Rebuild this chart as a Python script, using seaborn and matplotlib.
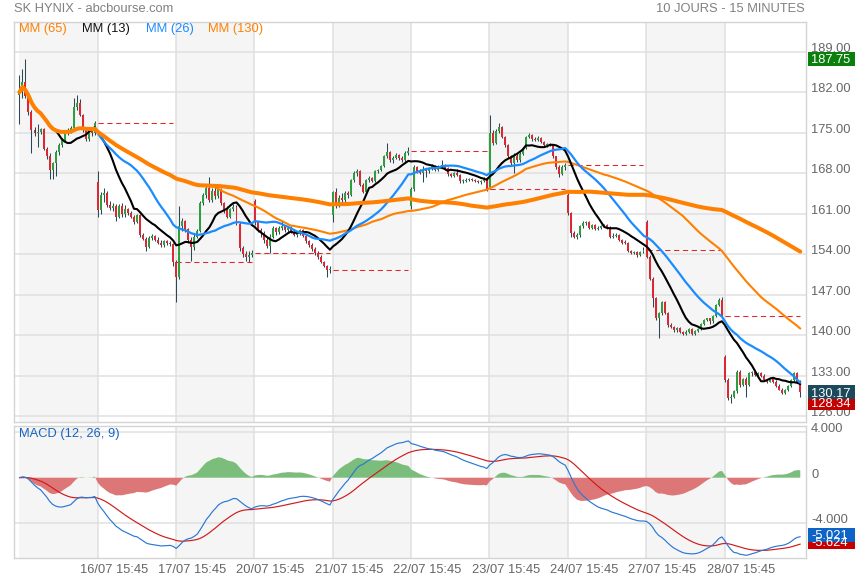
import numpy as np
import pandas as pd
import matplotlib
matplotlib.use("Agg")
import matplotlib.pyplot as plt
from matplotlib.patches import Rectangle
from matplotlib.transforms import blended_transform_factory
import seaborn as sns

# ---------------- data ----------------
title = "SK HYNIX - abcbourse.com"
period = "10 JOURS - 15 MINUTES"
date_labels = ["16/07 15:45", "17/07 15:45", "20/07 15:45", "21/07 15:45", "22/07 15:45",
               "23/07 15:45", "24/07 15:45", "27/07 15:45", "28/07 15:45"]
ma_windows = [65, 13, 26, 130]
ma_labels = ["MM (65)", "MM (13)", "MM (26)", "MM (130)"]
macd_periods = (12, 26, 9)
price_ticks = [126, 133, 140, 147, 154, 161, 168, 175, 182, 189]
macd_ticks = [-4, 0, 4]
macd_tick_labels = ["-4.000", "0", "4.000"]
close_before = 194.05
period_high = 187.75
period_low = 128.34
last_close = 130.17
macd_last = -5.021
signal_last = -5.624

# (open, high, low, close) per 15-minute bar
day01 = [(181.5,185.0,176.5,182.0),(182.0,186.0,181.0,183.8),(183.8,187.75,181.0,181.3),(181.3,182.0,178.0,178.6),
         (178.6,179.0,171.5,175.5),(175.5,176.0,174.5,175.0),(175.0,176.5,172.5,175.2),(175.2,175.8,174.8,175.6),
         (175.6,175.8,172.0,172.2),(172.2,172.5,170.5,171.0),(171.0,171.5,167.0,168.6),(168.6,170.0,167.0,169.8),
         (169.8,172.0,167.5,171.7),(171.7,173.2,171.2,172.9),(172.9,174.0,172.5,173.7),(173.7,175.4,173.5,175.2),
         (175.2,175.8,174.6,175.4),(175.4,176.2,175.0,175.8),(175.8,181.0,175.5,179.5),(179.5,181.5,179.0,180.1),
         (180.1,180.8,177.8,178.1),(178.1,178.3,175.2,175.5),(175.5,176.0,173.5,173.9),(173.9,175.8,173.5,175.4),
         (175.4,176.0,174.5,175.0),(175.0,177.0,174.6,176.6)]
day02 = [(166.5,168.3,160.5,161.6),(161.6,164.8,161.0,164.2),(164.2,165.5,163.0,164.6),(164.6,165.0,162.2,162.5),
         (162.5,163.2,161.6,162.0),(162.0,162.8,161.5,162.3),(162.3,162.6,159.8,160.5),(160.5,162.6,160.2,162.3),
         (162.3,162.8,160.5,161.0),(161.0,162.5,160.5,161.8),(161.8,162.0,160.8,161.2),(161.2,161.5,160.2,160.5),
         (160.5,160.8,159.2,159.6),(159.6,161.0,159.4,160.8),(160.8,161.0,157.0,157.3),(157.3,157.6,156.4,156.7),
         (156.7,157.0,154.5,155.3),(155.3,157.2,155.0,156.8),(156.8,157.5,156.5,157.2),(157.2,157.4,156.2,156.5),
         (156.5,156.9,155.8,156.0),(156.0,156.4,155.2,155.6),(155.6,156.5,155.3,156.2),(156.2,156.5,155.6,155.9),
         (155.9,156.3,155.5,155.7),(155.7,156.0,152.0,152.7)]
day03 = [(152.7,153.0,145.8,150.1),(150.1,162.4,149.8,158.8),(158.8,160.2,158.0,159.8),(159.8,160.0,157.8,158.3),
         (158.3,158.6,156.0,156.5),(156.5,157.0,152.8,155.2),(155.2,157.5,154.8,157.0),(157.0,158.4,156.8,158.0),
         (158.0,163.2,157.8,162.8),(162.8,164.5,162.5,164.2),(164.2,166.0,163.8,165.5),(165.5,167.4,163.0,163.4),
         (163.4,165.5,163.0,165.0),(165.0,165.8,163.5,164.0),(164.0,165.6,163.8,165.2),(165.2,165.5,162.5,162.8),
         (162.8,163.0,161.2,161.6),(161.6,162.4,160.2,160.5),(160.5,162.0,160.2,161.8),(161.8,162.6,161.4,162.2),
         (162.2,162.5,159.0,159.3),(159.3,159.5,154.6,155.0),(155.0,155.4,153.6,154.0),(154.0,154.6,152.8,153.6),
         (153.6,154.5,152.6,153.8),(153.8,154.8,153.5,154.2)]
day04 = [(163.2,163.5,159.0,159.5),(159.5,159.8,157.8,158.2),(158.2,158.5,157.0,157.6),(157.6,158.0,156.0,156.5),
         (156.5,157.0,155.0,155.5),(155.5,157.5,154.2,157.0),(157.0,158.8,156.8,158.5),(158.5,158.7,157.4,157.8),
         (157.8,158.8,157.5,158.6),(158.6,159.8,158.2,158.9),(158.9,159.0,157.8,158.1),(158.1,158.9,157.9,158.6),
         (158.6,158.8,157.6,157.9),(157.9,158.1,157.2,157.4),(157.4,157.9,157.0,157.6),(157.6,158.4,157.4,158.1),
         (158.1,158.3,156.9,157.2),(157.2,157.5,156.0,156.3),(156.3,156.5,155.2,155.6),(155.6,155.9,154.6,154.9),
         (154.9,155.2,153.9,154.2),(154.2,154.5,153.2,153.6),(153.6,153.8,152.4,152.6),(152.6,152.8,151.8,152.0),
         (152.0,152.2,150.0,151.3),(151.3,151.9,150.8,151.3)]
day05 = [(160.8,165.0,159.5,164.8),(164.8,165.5,162.0,162.5),(162.5,164.2,162.2,163.8),(163.8,164.6,162.8,163.3),
         (163.3,165.0,163.0,164.6),(164.6,164.9,163.8,164.2),(164.2,167.0,164.0,166.8),(166.8,168.4,166.5,168.0),
         (168.0,168.8,167.6,168.4),(168.4,168.6,165.8,166.0),(166.0,166.3,164.5,164.8),(164.8,167.0,164.6,166.8),
         (166.8,167.5,166.5,167.2),(167.2,167.4,166.4,166.7),(166.7,168.6,166.5,168.3),(168.3,168.8,168.0,168.6),
         (168.6,169.4,168.3,169.2),(169.2,171.2,169.0,170.9),(170.9,173.2,170.6,171.6),(171.6,171.8,170.0,170.3),
         (170.3,171.0,169.8,170.6),(170.6,171.5,170.4,171.2),(171.2,171.4,170.3,170.6),(170.6,170.9,170.0,170.3),
         (170.3,171.8,170.0,171.5),(171.5,172.6,171.2,171.9)]
day06 = [(162.3,165.6,161.8,165.3),(165.3,169.5,165.0,169.0),(169.0,169.3,168.1,168.4),(168.4,168.8,167.8,168.0),
         (168.0,169.3,166.5,168.6),(168.6,168.9,167.4,168.3),(168.3,169.1,168.0,168.9),(168.9,169.6,168.6,169.2),
         (169.2,169.4,168.4,168.6),(168.6,169.4,168.4,169.1),(169.1,170.3,168.9,169.5),(169.5,169.6,168.6,168.9),
         (168.9,169.0,167.5,167.8),(167.8,168.0,167.3,167.5),(167.5,168.2,167.3,168.0),(168.0,168.7,167.5,167.7),
         (167.7,167.9,166.3,166.6),(166.6,167.0,166.3,166.7),(166.7,167.1,166.5,166.9),(166.9,167.2,166.7,167.0),
         (167.0,167.2,166.6,166.8),(166.8,167.0,166.4,166.6),(166.6,166.8,166.3,166.5),(166.5,166.8,166.2,166.6),
         (166.6,167.3,166.5,167.1),(167.1,167.3,165.0,165.3)]
day07 = [(165.6,178.0,165.3,174.9),(174.9,175.5,172.8,173.2),(173.2,175.6,173.0,175.3),(175.3,176.7,175.0,175.9),
         (175.9,176.2,174.0,174.3),(174.3,174.5,172.6,172.9),(172.9,173.1,170.6,170.9),(170.9,171.1,169.4,169.7),
         (169.7,171.5,168.0,171.0),(171.0,171.3,169.9,170.2),(170.2,171.7,170.0,171.4),(171.4,172.6,171.2,172.4),
         (172.4,174.5,172.2,174.3),(174.3,175.0,174.0,174.6),(174.6,174.8,173.6,173.9),(173.9,174.2,173.5,173.7),
         (173.7,174.4,173.5,174.1),(174.1,174.3,173.2,173.4),(173.4,173.6,172.6,172.9),(172.9,173.2,172.6,173.0),
         (173.0,173.2,172.7,172.9),(172.9,173.1,170.6,170.9),(170.9,171.0,168.8,169.1),(169.1,169.4,167.3,167.9),
         (167.9,169.4,167.7,169.0),(169.0,169.8,168.6,169.4)]
day08 = [(164.2,164.5,160.8,161.1),(161.1,161.3,157.0,157.6),(157.6,158.0,156.8,157.0),(157.0,157.6,156.6,157.3),
         (157.3,159.0,157.0,158.8),(158.8,159.8,158.6,159.4),(159.4,159.8,159.0,159.6),(159.6,159.7,158.3,158.6),
         (158.6,159.3,158.4,159.1),(159.1,159.2,158.2,158.4),(158.4,158.8,158.1,158.5),(158.5,159.1,158.3,158.9),
         (158.9,159.3,158.7,159.1),(159.1,159.2,158.4,158.6),(158.6,158.8,156.8,157.0),(157.0,157.7,156.8,157.1),
         (157.1,157.6,156.9,157.3),(157.3,157.5,156.2,156.5),(156.5,156.7,155.8,156.0),(156.0,156.4,155.7,155.9),
         (155.9,156.1,154.3,154.5),(154.5,154.8,154.0,154.2),(154.2,154.6,154.0,154.3),(154.3,154.5,153.6,153.9),
         (153.9,154.6,153.7,154.4),(154.4,155.2,154.2,154.7)]
day09 = [(159.6,160.0,153.3,153.6),(153.6,153.8,149.6,149.8),(149.8,150.0,144.9,146.4),(146.4,146.6,142.7,142.9),
         (142.9,144.0,139.5,143.8),(143.8,146.0,143.5,145.8),(145.8,146.0,143.6,143.8),(143.8,144.0,141.4,141.8),
         (141.8,142.2,141.2,141.4),(141.4,141.6,140.6,140.9),(140.9,141.5,140.6,141.3),(141.3,141.4,140.4,140.6),
         (140.6,140.8,140.0,140.3),(140.3,140.9,140.0,140.6),(140.6,141.2,140.4,141.0),(141.0,141.2,140.0,140.3),
         (140.3,140.9,140.1,140.7),(140.7,141.3,140.5,141.1),(141.1,142.2,140.9,141.9),(141.9,142.8,141.7,142.6),
         (142.6,143.0,142.4,142.9),(142.9,143.0,142.0,142.4),(142.4,143.5,142.2,143.3),(143.3,145.4,143.1,145.2),
         (145.2,146.4,145.0,146.1),(146.1,146.6,143.0,143.3)]
day10 = [(136.3,136.6,132.0,132.3),(132.3,132.6,128.8,129.1),(129.1,129.8,128.34,129.4),(129.4,130.6,129.2,130.3),
         (130.3,134.0,130.0,133.7),(133.7,134.0,131.0,131.4),(131.4,132.6,131.2,132.5),(132.5,132.8,129.4,131.4),
         (131.4,133.6,131.2,133.4),(133.4,133.8,133.0,133.6),(133.6,133.8,132.9,133.1),(133.1,133.6,132.9,133.4),
         (133.4,133.6,132.8,133.0),(133.0,133.3,132.1,132.3),(132.3,132.5,131.8,132.0),(132.0,132.8,131.9,132.6),
         (132.6,132.8,131.7,132.0),(132.0,132.2,131.0,131.2),(131.2,131.5,130.5,130.6),(130.6,130.8,129.8,130.0),
         (130.0,130.7,129.8,130.5),(130.5,131.4,130.3,131.2),(131.2,132.5,131.0,132.3),(132.3,133.6,132.1,133.4),
         (133.4,133.6,131.8,132.0),(132.0,132.2,129.4,130.17)]
days = [day01, day02, day03, day04, day05, day06, day07, day08, day09, day10]

# ---------------- frame & indicators ----------------
df = pd.DataFrame([b for d in days for b in d], columns=["open", "high", "low", "close"])
df["i"] = np.arange(len(df))
for w in ma_windows:
    df[f"ma{w}"] = df["close"].rolling(w, min_periods=1).mean()
fast, slow, sig = macd_periods
ema_fast = df["close"].ewm(alpha=1 / fast, adjust=False).mean()
ema_slow = df["close"].ewm(alpha=1 / slow, adjust=False).mean()
df["macd"] = ema_fast - ema_slow
df["signal"] = df["macd"].ewm(alpha=1 / sig, adjust=False).mean()
df["hist"] = df["macd"] - df["signal"]

# ---------------- style ----------------
sns.set_theme(style="white")
plt.rcParams['font.family'] = ['Liberation Sans', 'DejaVu Sans']
FS = 9.3
GRID = '#e0e0e0'
TXT = '#666666'

W, H = 855, 580
fig = plt.figure(figsize=(W / 100, H / 100), dpi=100)
fig.patch.set_facecolor('white')

def rect(l, t, r, b):
    return [l / W, 1 - b / H, (r - l) / W, (b - t) / H]

ax = fig.add_axes(rect(14, 21.7, 806, 421.7))
axm = fig.add_axes(rect(14, 425.7, 806, 558))

n = len(df)
starts = np.cumsum([0] + [len(d) for d in days])
for a in (ax, axm):
    a.set_xlim(-1.8, n + 0.9)
    a.set_facecolor('white')
    for k in range(len(days)):
        if k % 2 == 0:
            a.axvspan(starts[k] - 0.1, starts[k + 1] - 0.1, color='#f5f5f5', lw=0, zorder=0)
    for k in range(1, len(days)):
        a.axvline(starts[k] - 0.1, color=GRID, lw=1.1, zorder=0.5)
    for s in a.spines.values():
        s.set_color('#d4d4d4')
        s.set_linewidth(1.0)

# ---- price panel ----
ax.set_ylim(125.06, 194.18)
for p in price_ticks:
    ax.axhline(p, color=GRID, lw=1.1, zorder=0.5)

prev = [close_before] + [d[-1][3] for d in days[:-1]]
for k in range(len(days)):
    ax.hlines(prev[k], starts[k], starts[k + 1] - 1, colors='#e4262b',
              linestyles=(0, (5, 3.5)), lw=0.75, zorder=2.5)

up = (df["close"] >= df["open"]).to_numpy()
ax.vlines(df["i"], df["low"], df["high"], color='#2b4858', lw=0.75, zorder=2)
body = (df["close"] - df["open"]).abs().clip(lower=0.14)
ax.bar(df["i"], body, bottom=df[["open", "close"]].min(axis=1), width=0.66,
       color=np.where(up, '#2f9e3f', '#dc2833'), lw=0, zorder=3)

ma_colors = {65: '#ff8000', 13: '#000000', 26: '#1b8cff', 130: '#ff8000'}
ma_widths = {65: 1.5, 13: 1.5, 26: 1.6, 130: 2.9}
for w in ma_windows:
    sns.lineplot(data=df, x="i", y=f"ma{w}", ax=ax, color=ma_colors[w], lw=ma_widths[w],
                 estimator=None, legend=False, zorder=4)

ax.set_xlabel("")
ax.set_ylabel("")
ax.set_xticks([])
ax.yaxis.tick_right()
ax.set_yticks(price_ticks)
ax.set_yticklabels([f"{p:.2f}" for p in price_ticks])
ax.tick_params(axis='y', length=0, pad=3.6, labelsize=FS, labelcolor=TXT)
for lbl in ax.get_yticklabels():
    lbl.set_verticalalignment('baseline')

# ---- MACD panel ----
axm.set_ylim(-7.056, 4.57)
for t in (-4, 4):
    axm.axhline(t, color=GRID, lw=1.1, zorder=0.5)
hist = df["hist"].to_numpy()
axm.fill_between(df["i"], hist, 0, where=hist >= 0, interpolate=True, color='#7bbd7b', lw=0, zorder=1)
axm.fill_between(df["i"], hist, 0, where=hist < 0, interpolate=True, color='#dd7777', lw=0, zorder=1)
sns.lineplot(data=df, x="i", y="signal", ax=axm, color='#d11a1a', lw=0.85, estimator=None, legend=False, zorder=3)
sns.lineplot(data=df, x="i", y="macd", ax=axm, color='#2a78d6', lw=0.85, estimator=None, legend=False, zorder=3)
axm.set_xlabel("")
axm.set_ylabel("")
axm.yaxis.tick_right()
axm.set_yticks(macd_ticks)
axm.set_yticklabels(macd_tick_labels)
axm.tick_params(axis='y', length=0, pad=3.6, labelsize=FS, labelcolor=TXT)
for lbl in axm.get_yticklabels():
    lbl.set_verticalalignment('baseline')
axm.set_xticks([starts[k] + 5.3 for k in range(1, len(days))])
axm.set_xticklabels(date_labels)
axm.tick_params(axis='x', length=0, pad=4.5, labelsize=FS, labelcolor=TXT)

# ---- value boxes ----
def value_box(a, v, txt, fc, ppu):
    tr = blended_transform_factory(a.transAxes, a.transData)
    h = 14.5 / ppu
    a.add_patch(Rectangle((1.0025, v - h / 2), 47 / 792, h, transform=tr, fc=fc, ec='none',
                          clip_on=False, zorder=6))
    a.text(1.0065, v, txt, transform=tr, color='white', fontsize=FS, va='center_baseline',
           ha='left', zorder=7, clip_on=False)

value_box(ax, period_high, f"{period_high:.2f}", '#0b7f0b', 5.787)
value_box(ax, period_low, f"{period_low:.2f}", '#c40000', 5.787)
value_box(ax, last_close, f"{last_close:.2f}", '#1c4a5a', 5.787)
value_box(axm, signal_last, f"{signal_last:.3f}", '#c40000', 11.38)
value_box(axm, macd_last, f"{macd_last:.3f}", '#0e63c6', 11.38)

# ---- texts ----
fig.text(14 / W, 1 - 8.5 / H, title, color='#808080', fontsize=FS, va='center', ha='left')
fig.text(805 / W, 1 - 8.5 / H, period, color='#808080', fontsize=FS, va='center', ha='right')
leg_x = [19.3, 81.7, 145.7, 208.3]
leg_c = ['#ff8000', '#111111', '#1b8cff', '#ff8000']
for lx, lab, c in zip(leg_x, ma_labels, leg_c):
    fig.text(lx / W, 1 - 29 / H, lab, color=c, fontsize=FS, va='center', ha='left')
fig.text(19.3 / W, 1 - 433.5 / H, "MACD (12, 26, 9)", color='#1565c0', fontsize=FS, va='center', ha='left')

fig.savefig("out.png", dpi=100)
